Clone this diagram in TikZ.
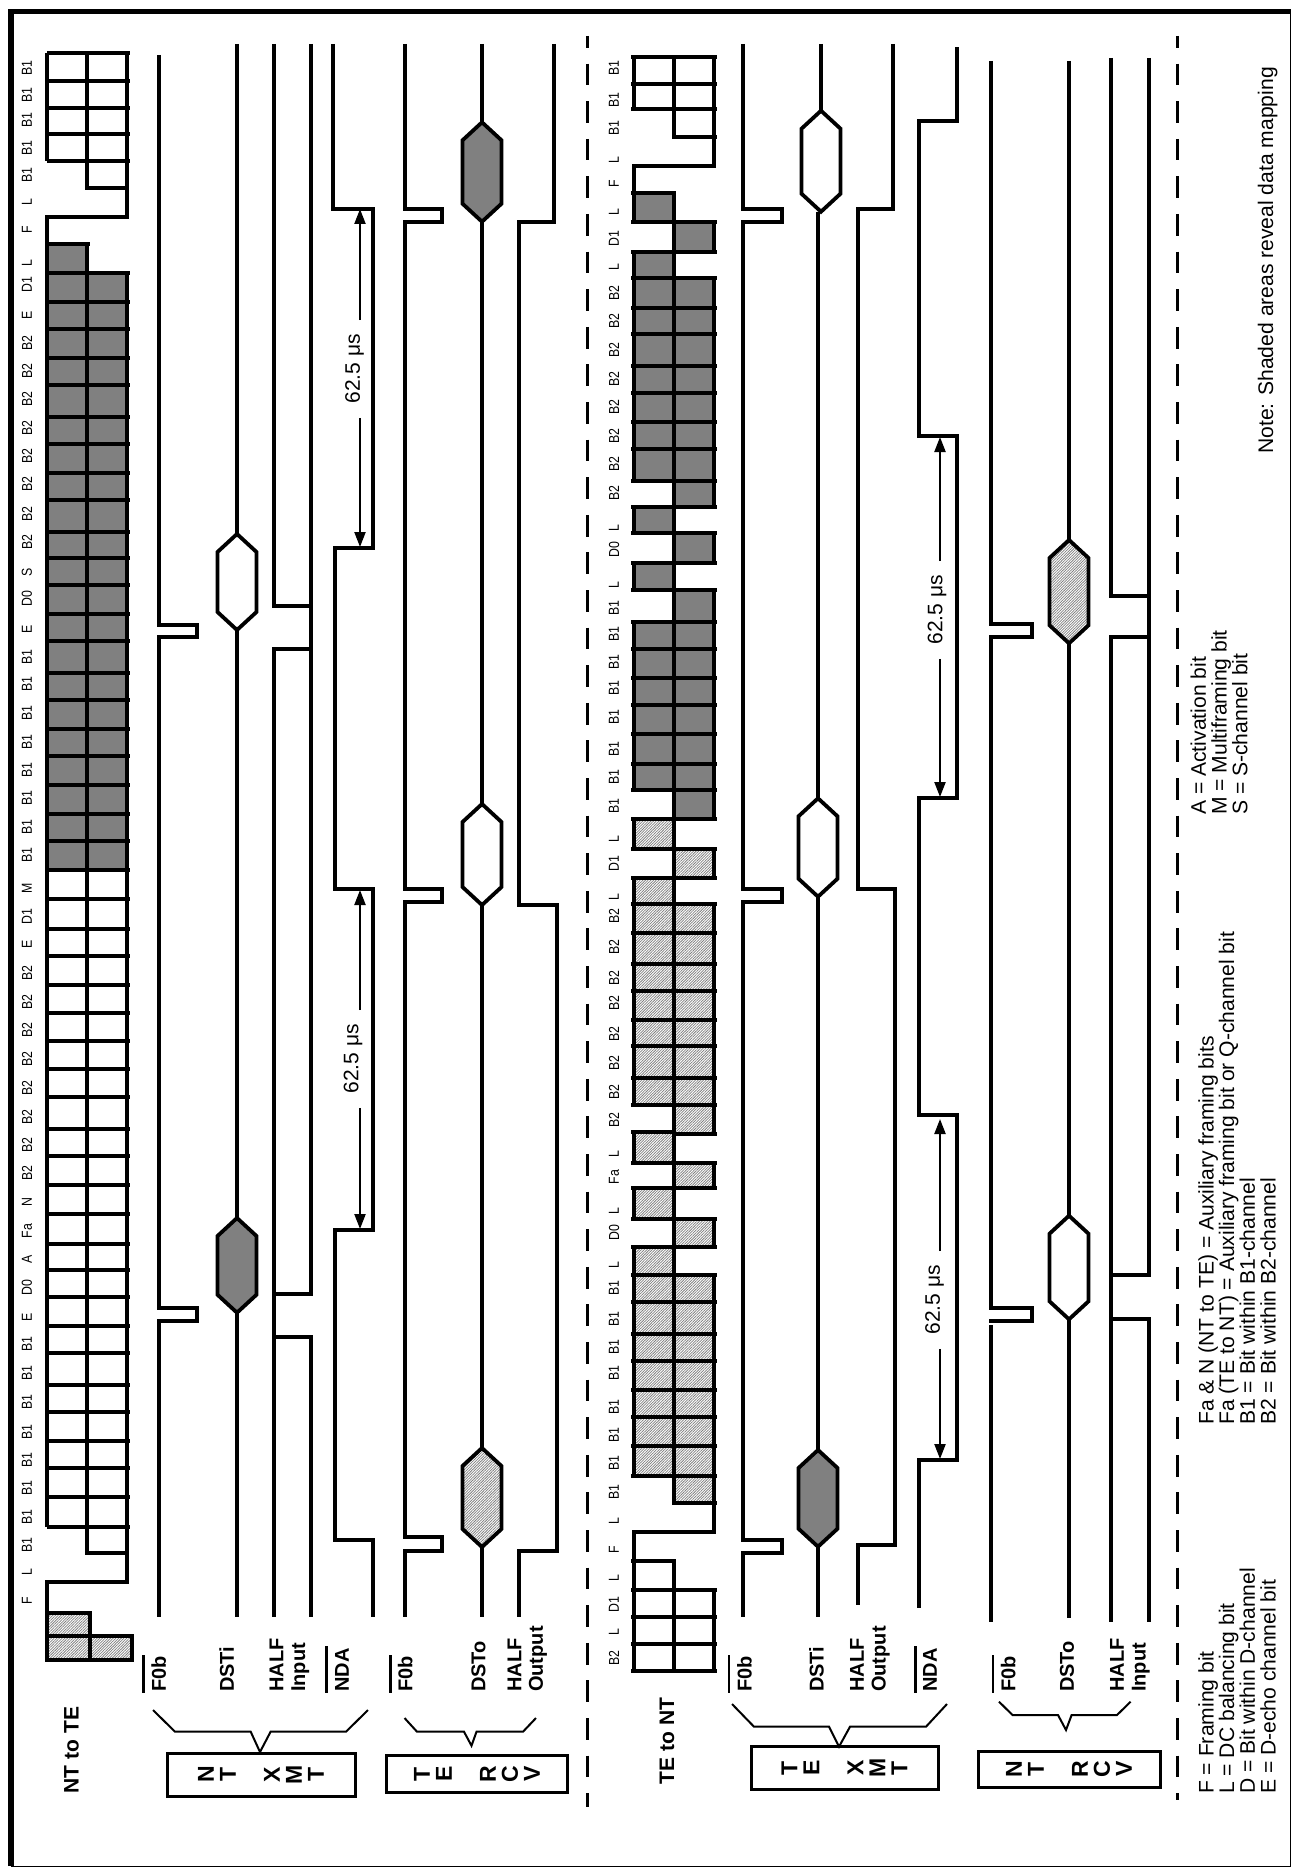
\documentclass[tikz,border=0pt]{standalone}
\usepackage{fontspec}
\setmainfont{Liberation Sans}
\newfontfamily\bitfont[FakeStretch=0.85]{Liberation Sans}
\usetikzlibrary{arrows.meta,patterns.meta}
\definecolor{dark}{HTML}{808080}
\newcommand{\bitsL}[2]{\foreach \ya/\yb in {#2}
  \draw[grid,#1] (634,\ya) rectangle (674,\yb) (631,\ya) -- (634,\ya) (631,\yb) -- (634,\yb);}
\newcommand{\bitsR}[2]{\foreach \ya/\yb in {#2}
  \draw[grid,#1] (674,\ya) rectangle (714,\yb) (714,\ya) -- (717,\ya) (714,\yb) -- (717,\yb);}
\newcommand{\bitsB}[2]{\bitsL{#1}{#2}\bitsR{#1}{#2}}
\newcommand{\hexa}[4]{\draw[sig,#4] (#1,#2) -- ({#1+19.5},{#2+18}) -- ({#1+19.5},{#3-18})
  -- (#1,#3) -- ({#1-19.5},{#3-18}) -- ({#1-19.5},{#2+18}) -- cycle;}
\begin{document}
\begin{tikzpicture}[x=1pt,y=-1pt,
    sig/.style={line width=3.8pt, line join=miter},
    grid/.style={line width=3.8pt, line join=miter},
    brace/.style={line width=2pt},
    bar/.style={line width=2.8pt},
    dim/.style={line width=2.2pt, -{Triangle[length=15pt,width=11pt]}},
    dashline/.style={line width=3pt, dash pattern=on 21.7pt off 15.9pt, dash phase=10pt},
    darkbit/.style={fill=dark},
    lightbit/.style={preaction={fill=white}, pattern={Lines[angle=45,distance=1.9pt,line width=0.75pt]}, pattern color=black!50},
    whitebit/.style={},
    bit/.style={rotate=90, inner sep=0pt, font=\bitfont\fontsize{14.5}{14.5}\selectfont},
    sname/.style={rotate=90, anchor=west, align=left, inner sep=0pt,
                  font=\fontsize{20}{21.7}\selectfont\bfseries},
    title/.style={rotate=90, inner sep=0pt, font=\fontsize{21}{21}\selectfont\bfseries},
    unit/.style={draw, line width=3pt, rotate=90, align=center, inner sep=0pt,
                 font=\fontsize{23}{22}\selectfont\bfseries},
    legend/.style={rotate=90, anchor=west, align=left, inner sep=0pt,
                   font=\fontsize{21.1}{20.7}\selectfont},
    span/.style={rotate=90, inner ysep=0pt, inner xsep=14pt, font=\fontsize{21}{21}\selectfont}
  ]
  \useasboundingbox (0,0) rectangle (1291,1867);
  % frame
  \draw[line width=1pt] (11,12) rectangle (1290,1866);
  \draw[line width=5.2pt] (11,1866) -- (11,11.7) -- (1291,11.7);
  \draw[dashline] (587,36) -- (587,1807);
  \draw[dashline] (1177,36) -- (1177,1800);

  % NT to TE bit grid
  \fill[dark] (47,273) rectangle (127,870) (47,244.3) rectangle (87,273);
  \fill[lightbit] (47,1613.3) rectangle (90,1660) (90,1636) rectangle (132,1660);
  \foreach \y in {53.3,81,107.7,134,161,273,302,329,358,385,416.7,444,473.3,500,531.7,558.3,585,614,641,672.7,700,729,755.7,785,814,841,870,899.3,928.7,955.7,985,1013.3,1040.7,1069.3,1096.7,1129,1156,1185,1214,1243.7,1270,1297,1325.7,1353,1385,1411.7,1440.7,1467.7,1496.7,1526.7}
    \draw[grid] (47,\y) -- (130,\y);
  \draw[grid] (47,53.3) -- (47,161);
  \draw[grid] (87,53.3) -- (87,188) -- (127,188);
  \draw[grid] (127,53.3) -- (127,216.7) -- (47,216.7) -- (47,1526.7);
  \draw[grid] (47,244.3) -- (90,244.3);
  \draw[grid] (87,244.3) -- (87,1552.7) -- (127,1552.7);
  \draw[grid] (127,273) -- (127,1582) -- (47,1582) -- (47,1660) -- (132,1660) -- (132,1636) -- (47,1636);
  \draw[grid] (47,1613.3) -- (90,1613.3) -- (90,1660);
  \foreach \lab/\y in {B1/68,B1/95,B1/120,B1/148,B1/175,L/202,F/230,L/263,D1/285,E/315,B2/343,B2/371,B2/399,B2/428,B2/456,B2/484,B2/514,B2/542,S/572,D0/599,E/629,B1/657,B1/684,B1/713,B1/742,B1/770,B1/798,B1/827,B1/855,M/888,D1/917,E/944,B2/973,B2/1002,B2/1030,B2/1059,B2/1088,B2/1117,B2/1145,B2/1173,N/1202,Fa/1231,A/1259,D0/1288,E/1317,B1/1344,B1/1373,B1/1402,B1/1432,B1/1460,B1/1488,B1/1517,B1/1545,L/1572,F/1601}
    \node[bit] (nb\y) at (27,\y) {\lab};

  % NT to TE signals
  \draw[sig] (159,55) -- (159,625) -- (197,625) -- (197,637) -- (159,637) -- (159,1307.7) -- (197,1307.7) -- (197,1320.7) -- (159,1320.7) -- (159,1617);
  \draw[sig] (237,44) -- (237,1617);
  \hexa{237}{534}{630}{fill=white}
  \hexa{237}{1218}{1312.7}{fill=dark}
  \draw[sig] (274,44) -- (274,606) -- (311,606);
  \draw[sig] (311,44) -- (311,1294) -- (274,1294);
  \draw[sig] (311,649) -- (274,649) -- (274,1617);
  \draw[sig] (274,1336.7) -- (311,1336.7) -- (311,1617);
  \draw[sig] (333,44) -- (333,209) -- (373,209) -- (373,548) -- (335,548) -- (335,889) -- (373,889) -- (373,1230) -- (335,1230) -- (335,1540) -- (373,1540) -- (373,1617);
  \draw[sig] (405,44) -- (405,209) -- (442,209) -- (442,222) -- (405,222) -- (405,889) -- (442,889) -- (442,902) -- (405,902) -- (405,1536.7) -- (442,1536.7) -- (442,1551) -- (405,1551) -- (405,1617);
  \draw[sig] (482,44) -- (482,1617);
  \hexa{482}{122.3}{221.7}{fill=dark}
  \hexa{482}{804}{905}{fill=white}
  \hexa{482}{1448}{1547}{lightbit}
  \draw[sig] (554,44) -- (554,221.7) -- (519,221.7) -- (519,905) -- (557,905) -- (557,1550.7) -- (519,1550.7) -- (519,1617);

  \coordinate (na1) at (360,209);
  \coordinate (na2) at (360,547);
  \coordinate (na3) at (360,890);
  \coordinate (na4) at (360,1229);
  \node[span] (nt1) at (354.5,369) {62.5 μs};
  \node[span] (nt2) at (353,1059) {62.5 μs};
  \draw[dim] (nt1.east -| na1) -- (na1);
  \draw[dim] (nt1.west -| na2) -- (na2);
  \draw[dim] (nt2.east -| na3) -- (na3);
  \draw[dim] (nt2.west -| na4) -- (na4);

  % TE to NT bit grid
  \bitsB{whitebit}{56.7/84,84/109.3,1590/1617.3,1617.3/1644.3,1644.3/1671}
  \bitsR{whitebit}{109.3/136.7}
  \bitsL{whitebit}{1561/1590}
  \draw[grid] (714,136.7) -- (714,165.7) -- (634,165.7) -- (634,192.7);
  \draw[grid] (714,1503.3) -- (714,1531.7) -- (634,1531.7) -- (634,1561);
  \bitsB{darkbit}{277.7/307.7,307.7/334,334/366,366/393.3,393.3/421.7,421.7/449,449/481,622.3/649,649/678.3,678.3/705,705/734.3,734.3/764,764/790}
  \bitsL{darkbit}{192.7/221.7,251.7/277.7,507.3/533.3,563.3/590}
  \bitsR{darkbit}{221.7/251.7,481/507.3,533.3/563.3,590/622.3,790/819.3}
  \bitsB{lightbit}{904.3/933.3,933.3/964,964/990.7,990.7/1020,1020/1046,1046/1078,1078/1105,1275/1301.7,1301.7/1334,1334/1361,1361/1390,1390/1416.7,1416.7/1446,1446/1476}
  \bitsL{lightbit}{819.3/849,878.3/904.3,1131.7/1163.3,1188.3/1219.3,1246.7/1275}
  \bitsR{lightbit}{849/878.3,1105/1134.3,1163.3/1188.3,1219.3/1246.7,1476/1503.3}
  \foreach \lab/\y in {B1/68,B1/100,B1/128,L/160,F/184,L/212,D1/239,L/267,B2/293,B2/321,B2/350,B2/379,B2/407,B2/436,B2/464,B2/493,L/528,D0/550,L/585,B1/608,B1/634,B1/662,B1/688,B1/717,B1/749,B1/777,B1/806,L/839,D1/864,L/897,B2/916,B2/947,B2/978,B2/1003,B2/1034,B2/1063,B2/1092,B2/1120,L/1154,Fa/1177,L/1211,D0/1233,L/1265,B1/1288,B1/1319,B1/1347,B1/1373,B1/1407,B1/1435,B1/1463,B1/1492,L/1521,F/1550,L/1578,D1/1605,L/1632,B2/1658}
    \node[bit] (tb\y) at (614,\y) {\lab};

  % TE to NT signals
  \draw[sig] (743,44) -- (743,209) -- (781.6,209) -- (781.6,222.3) -- (743,222.3) -- (743,889) -- (781.6,889) -- (781.6,902.3) -- (743,902.3) -- (743,1540) -- (781.6,1540) -- (781.6,1552.7) -- (743,1552.7) -- (743,1617);
  \draw[sig] (821,44) -- (821,110.7);
  \draw[sig] (818,211.7) -- (818,1617);
  \hexa{821}{110.7}{211.7}{fill=white}
  \hexa{818}{798.3}{896.7}{fill=white}
  \hexa{818}{1450}{1546.7}{fill=dark}
  \draw[sig] (892.6,44) -- (892.6,209) -- (858,209) -- (858,889) -- (895,889) -- (895,1545) -- (858,1545) -- (858,1605);
  \draw[sig] (957,47.3) -- (957,120.7) -- (918.6,120.7) -- (918.6,435.7) -- (957,435.7) -- (957,797.7) -- (918.6,797.7) -- (918.6,1115) -- (957,1115) -- (957,1460) -- (918.6,1460) -- (918.6,1608);
  \draw[sig] (991,61) -- (991,624.3) -- (1032,624.3) -- (1032,637.3) -- (991,637.3) -- (991,1307.7) -- (1032,1307.7) -- (1032,1320.7) -- (989,1320.7);
  \draw[sig] (991,1325) -- (991,1622);
  \draw[sig] (1069,61) -- (1069,1618);
  \hexa{1069}{540}{643.3}{lightbit}
  \hexa{1069}{1215.7}{1319.3}{fill=white}
  \draw[sig] (1111,58) -- (1111,596) -- (1148.7,596);
  \draw[sig] (1148.7,58) -- (1148.7,1275) -- (1111,1275);
  \draw[sig] (1148.7,637.3) -- (1111,637.3) -- (1111,1622);
  \draw[sig] (1111,1319) -- (1148.7,1319) -- (1148.7,1622);

  \coordinate (ta1) at (940,437);
  \coordinate (ta2) at (940,797);
  \coordinate (ta3) at (940,1119);
  \coordinate (ta4) at (940,1459);
  \node[span] (tt1) at (937,610) {62.5 μs};
  \node[span] (tt2) at (934.6,1300) {62.5 μs};
  \draw[dim] (tt1.east -| ta1) -- (ta1);
  \draw[dim] (tt1.west -| ta2) -- (ta2);
  \draw[dim] (tt2.east -| ta3) -- (ta3);
  \draw[dim] (tt2.west -| ta4) -- (ta4);

  % signal names
  \node[title] (nttote) at (71.6,1750) {NT to TE};
  \node[sname] (nf0a) at (158.8,1692) {F0b};
  \node[sname] (ndsti) at (226.6,1692) {DSTi};
  \node[sname] (nhalfa) at (289.5,1692) {HALF\\Input};
  \node[sname] (nnda) at (342,1692) {NDA};
  \node[sname] (nf0b) at (405.3,1692) {F0b};
  \node[sname] (ndsto) at (478.5,1692) {DSTo};
  \node[sname] (nhalfb) at (527.3,1692) {HALF\\Output};
  \node[title] (tetont) at (667,1741) {TE to NT};
  \node[sname] (tf0a) at (744.4,1692) {F0b};
  \node[sname] (tdsti) at (816.4,1692) {DSTi};
  \node[sname] (thalfa) at (870,1692) {HALF\\Output};
  \node[sname] (tnda) at (930,1692) {NDA};
  \node[sname] (tf0b) at (1008.3,1692) {F0b};
  \node[sname] (tdsto) at (1067,1692) {DSTo};
  \node[sname] (thalfb) at (1130,1692) {HALF\\Input};
  \foreach \x/\y in {143.5/1655,326.4/1646,390.4/1655,729/1655,915.6/1646,993/1655}
    \draw[bar] (\x,\y) -- (\x,1692.7);

  % transmit and receive blocks
  \draw[brace] (153,1710) -- (175,1731.7) -- (250.7,1731.7) -- (260,1752) -- (270.6,1731.7) -- (346,1731.7) -- (368,1710);
  \draw[brace] (404.5,1718) -- (417,1731.7) -- (464,1731.7) -- (471.5,1745.7) -- (476.5,1731.7) -- (523,1731.7) -- (536,1718);
  \draw[brace] (732,1704) -- (754,1726.7) -- (829,1726.7) -- (839,1746.7) -- (850,1726.7) -- (926,1726.7) -- (947,1704);
  \draw[brace] (999,1701.7) -- (1012.5,1715) -- (1058,1715) -- (1066,1730) -- (1071.6,1715) -- (1117,1715) -- (1130.6,1701.7);
  \node[unit, minimum width=43pt, minimum height=188pt] (ntxmt) at (261,1774.5) {N\\T\\[22pt]X\\M\\T};
  \node[unit, minimum width=37.3pt, minimum height=181pt] (tercv) at (477,1774.3) {T\\E\\[22pt]R\\C\\V};
  \node[unit, minimum width=43.3pt, minimum height=187pt] (texmt) at (844.5,1768.3) {T\\E\\[22pt]X\\M\\T};
  \node[unit, minimum width=36pt, minimum height=182pt] (ntrcv) at (1069,1769) {N\\T\\[22pt]R\\C\\V};

  % key
  \node[legend] (key1) at (1237,1794) {F = Framing bit\\L = DC balancing bit\\D = Bit within D-channel\\E = D-echo channel bit};
  \node[legend] (key2) at (1237,1425) {Fa \& N (NT to TE) = Auxiliary framing bits\\Fa (TE to NT) = Auxiliary framing bit or Q-channel bit\\B1 = Bit within B1-channel\\B2 = Bit within B2-channel};
  \node[legend] (key3) at (1219,815) {A = Activation bit\\M = Multiframing bit\\S = S-channel bit};
  \node[legend] (note) at (1267.7,454) {Note: Shaded areas reveal data mapping};
\end{tikzpicture}
\end{document}
